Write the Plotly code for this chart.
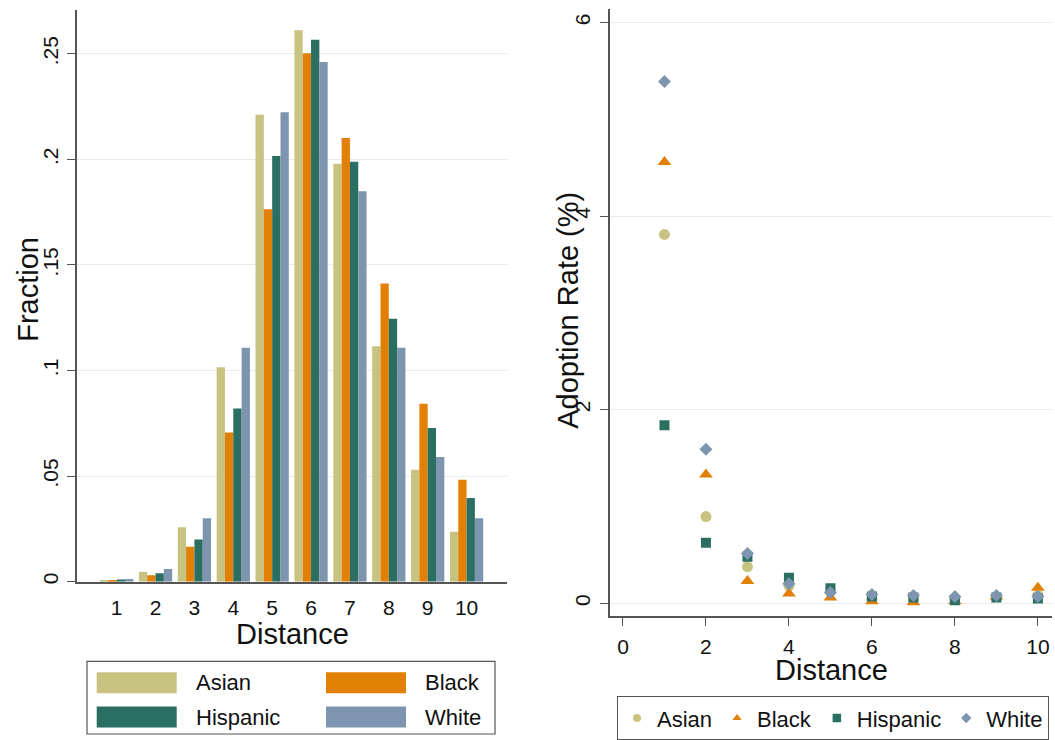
import plotly.graph_objects as go

# ---------------- data ----------------
distance = [1, 2, 3, 4, 5, 6, 7, 8, 9, 10]
races = ["Asian", "Black", "Hispanic", "White"]

frac_asian = [0.0008, 0.0047, 0.0258, 0.1016, 0.2212, 0.2612, 0.1980, 0.1115, 0.0530, 0.0236]
frac_black = [0.0007, 0.0030, 0.0165, 0.0706, 0.1764, 0.2503, 0.2102, 0.1412, 0.0843, 0.0483]
frac_hispanic = [0.0010, 0.0040, 0.0200, 0.0820, 0.2016, 0.2567, 0.1989, 0.1245, 0.0728, 0.0396]
frac_white = [0.0012, 0.0060, 0.0300, 0.1108, 0.2223, 0.2462, 0.1849, 0.1108, 0.0590, 0.0300]

rate_asian = [3.81, 0.895, 0.378, 0.18, 0.12, 0.05, 0.05, 0.05, 0.07, 0.08]
rate_black = [4.56, 1.33, 0.23, 0.10, 0.06, 0.02, 0.01, 0.02, 0.07, 0.16]
rate_hispanic = [1.84, 0.625, 0.48, 0.264, 0.155, 0.07, 0.06, 0.03, 0.06, 0.05]
rate_white = [5.39, 1.59, 0.514, 0.20, 0.11, 0.09, 0.08, 0.07, 0.08, 0.07]

frac_ticks = [0, 0.05, 0.10, 0.15, 0.20, 0.25]
frac_ticktext = ["0", ".05", ".1", ".15", ".2", ".25"]
rate_ticks = [0, 2, 4, 6]
dist_ticks_right = [0, 2, 4, 6, 8, 10]

fractions = [frac_asian, frac_black, frac_hispanic, frac_white]
rates = [rate_asian, rate_black, rate_hispanic, rate_white]

# ---------------- style ----------------
colors = {"Asian": "#c9c382", "Black": "#e27f05", "Hispanic": "#2b6f63", "White": "#7e95b0"}
symbols = {"Asian": "circle", "Black": "triangle-up", "Hispanic": "square", "White": "diamond"}
msizes = {"Asian": 11, "Black": 12, "Hispanic": 10, "White": 10}
legsizes = {"Asian": 8, "Black": 8, "Hispanic": 8.5, "White": 8}
FONT = "Liberation Sans, Arial, sans-serif"
AXC = "#555555"
GRID = "#ebebeb"
TXT = "#111111"
W, H = 1055, 740


def px(x):
    return x / W


def py(y):
    return (H - y) / H


fig = go.Figure()

for r, f in zip(races, fractions):
    fig.add_trace(go.Bar(x=distance, y=f, name=r, marker=dict(color=colors[r], line=dict(width=0)),
                         xaxis="x", yaxis="y", showlegend=False))

for r, v in zip(races, rates):
    fig.add_trace(go.Scatter(x=distance, y=v, name=r, mode="markers", legendgroup=r,
                             marker=dict(color=colors[r], symbol=symbols[r], size=msizes[r], line=dict(width=0)),
                             xaxis="x2", yaxis="y2", showlegend=False))
# legend entries for the scatter panel (smaller symbols, like the reference key)
for r in races:
    fig.add_trace(go.Scatter(x=[None], y=[None], name=r, mode="markers", legendgroup=r,
                             marker=dict(color=colors[r], symbol=symbols[r], size=legsizes[r], line=dict(width=0)),
                             xaxis="x2", yaxis="y2", showlegend=True))

tickfont = dict(size=21, color=TXT, family=FONT)
axis_common = dict(showline=True, linecolor=AXC, linewidth=1.5, zeroline=False, tickfont=tickfont)

fig.update_layout(
    width=W, height=H, autosize=False,
    margin=dict(l=0, r=0, t=0, b=0),
    paper_bgcolor="white", plot_bgcolor="white",
    font=dict(family=FONT, color=TXT),
    barmode="group", bargap=0.144, bargroupgap=0,
    xaxis=dict(domain=[px(77), px(507)], range=[-0.02, 11.04], anchor="y",
               tickvals=distance, ticks="outside", ticklen=6, tickcolor="rgba(0,0,0,0)",
               showgrid=False, **axis_common),
    yaxis=dict(domain=[py(584), py(10)], range=[0, 0.2708], anchor="x",
               tickvals=frac_ticks, ticktext=frac_ticktext, tickangle=-90,
               ticks="outside", ticklen=8, tickcolor=AXC, tickwidth=1.3, ticklabelstandoff=1,
               showgrid=True, gridcolor=GRID, gridwidth=1, **axis_common),
    xaxis2=dict(domain=[px(609.7), px(1052)], range=[-0.32, 10.34], anchor="y2",
                tickvals=dist_ticks_right, ticks="outside", ticklen=8, tickcolor=AXC, tickwidth=1.3,
                ticklabelstandoff=3, showgrid=False, **axis_common),
    yaxis2=dict(domain=[py(619), py(9)], range=[-0.137, 6.14], anchor="x2",
                tickvals=rate_ticks, tickangle=-90,
                ticks="outside", ticklen=8, tickcolor=AXC, tickwidth=1.3, ticklabelstandoff=2,
                showgrid=True, gridcolor=GRID, gridwidth=1, **axis_common),
    legend=dict(orientation="h", x=px(617), y=py(699), xanchor="left", yanchor="top",
                bordercolor=AXC, borderwidth=1.2, bgcolor="white",
                font=dict(size=22, family=FONT, color=TXT),
                itemsizing="trace", tracegroupgap=0),
)

title_font = dict(size=29, family=FONT, color=TXT)
annotations = [
    dict(text="Fraction", x=px(28), y=py(291), textangle=-90),
    dict(text="Distance", x=px(292), y=py(637), textangle=0),
    dict(text="Adoption Rate (%)", x=px(568), y=py(312), textangle=-90),
    dict(text="Distance", x=px(831), y=py(673), textangle=0),
]
for a in annotations:
    fig.add_annotation(xref="paper", yref="paper", showarrow=False, font=title_font,
                       xanchor="center", yanchor="middle", **a)

# manual key for the bar chart (wide swatches, two columns)
shapes = [dict(type="rect", xref="paper", yref="paper", x0=px(87), x1=px(495), y0=py(737), y1=py(664),
               line=dict(color=AXC, width=1.2), fillcolor="white")]
leg_pos = {"Asian": (96.7, 675), "Black": (326, 675), "Hispanic": (96.7, 709.5), "White": (326, 709.5)}
for r in races:
    x0, y0 = leg_pos[r]
    shapes.append(dict(type="rect", xref="paper", yref="paper", x0=px(x0), x1=px(x0 + 80),
                       y0=py(y0 + 21), y1=py(y0), line=dict(width=0), fillcolor=colors[r]))
    fig.add_annotation(xref="paper", yref="paper", showarrow=False, text=r,
                       x=px(x0 + 97), y=py(y0 + 10.5), xanchor="left", yanchor="middle",
                       font=dict(size=22, family=FONT, color=TXT))
fig.update_layout(shapes=shapes)

fig.write_html("out.html", config={"displayModeBar": False},
               post_script="document.body.style.margin='0';document.body.style.padding='0';"
                           "document.body.style.overflow='hidden';")
